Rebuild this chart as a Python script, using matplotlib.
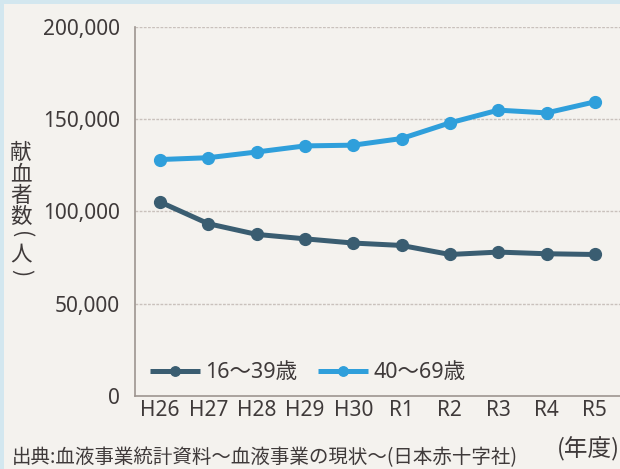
import matplotlib
matplotlib.use("Agg")
import matplotlib.pyplot as plt
from matplotlib.patches import Rectangle
from matplotlib.ticker import FuncFormatter

years = ["H26", "H27", "H28", "H29", "H30", "R1", "R2", "R3", "R4", "R5"]
young = [105100, 93300, 87500, 85100, 82800, 81500, 76600, 77900, 77000, 76600]
older = [128100, 129100, 132200, 135500, 135900, 139500, 148000, 154900, 153400, 159400]
series_labels = ["16～39歳", "40～69歳"]
y_ticks = [0, 50000, 100000, 150000, 200000]

plt.rcParams['font.family'] = ['Noto Sans', 'Noto Sans CJK JP', 'DejaVu Sans']

BG = '#f4f2ee'
TXT = '#3f3a3a'
DARK = '#3a5d71'
LIGHT = '#2f9fdb'

fig = plt.figure(figsize=(6.2, 4.69), dpi=100, facecolor=BG)
# scan border tint
fig.patches.append(Rectangle((0, 1 - 4/469), 1, 4/469, transform=fig.transFigure,
                             facecolor='#d3e7ef', edgecolor='none', zorder=0))
fig.patches.append(Rectangle((0, 0), 4/620, 1, transform=fig.transFigure,
                             facecolor='#d3e7ef', edgecolor='none', zorder=0))

ax = fig.add_axes([135/620, 73.3/469, 485/620, 368.7/469])
ax.set_facecolor('none')

x = list(range(len(years)))
ax.plot(x, young, color=DARK, lw=3.6, marker='o', ms=8.5, label=series_labels[0],
        solid_capstyle='butt', zorder=3)
ax.plot(x, older, color=LIGHT, lw=3.6, marker='o', ms=8.5, label=series_labels[1],
        solid_capstyle='butt', zorder=3)

ax.set_xlim(-0.517, 9.52)
ax.set_ylim(0, 200000)
ax.set_xticks(x)
ax.set_xticklabels(years)
ax.set_yticks(y_ticks)
ax.yaxis.set_major_formatter(FuncFormatter(lambda v, p: f"{int(v):,}"))
ax.tick_params(axis='both', length=0, labelsize=15, colors=TXT)
ax.tick_params(axis='x', pad=3)
ax.tick_params(axis='y', pad=11)

for v in y_ticks[1:]:
    ax.axhline(v, color='#c9c1bc', lw=1.0, ls=(0, (2, 1)), zorder=1)

for s in ['top', 'right']:
    ax.spines[s].set_visible(False)
for s in ['left', 'bottom']:
    ax.spines[s].set_color('#9d9590')
    ax.spines[s].set_linewidth(1.2)

leg = ax.legend(loc='center left', bbox_to_anchor=(0.031, 0.0616), ncol=2,
                frameon=False, fontsize=15.5, handlelength=2.3, handletextpad=0.24,
                columnspacing=1.0, borderpad=0, borderaxespad=0, markerscale=0.8)
for t in leg.get_texts():
    t.set_color(TXT)

# vertical y-axis label (stacked characters)
ylabel_chars = ["献", "血", "者", "数", "(", "人", ")"]
ypos = [152.5, 174, 196, 217, 235, 254, 273]
for ch, yp in zip(ylabel_chars, ypos):
    rot = -90 if ch in "()" else 0
    fig.text(21/620, 1 - yp/469, ch, ha='center', va='center', fontsize=15.5,
             color=TXT, rotation=rot, rotation_mode='anchor',
             family=['Noto Sans CJK JP'])

fig.text(1.0, 1 - 456/469, "(年度)", ha='right', va='baseline', fontsize=17,
         color=TXT, family=['Noto Sans CJK JP'])
fig.text(12/620, 1 - 463.5/469, "出典:血液事業統計資料～血液事業の現状～(日本赤十字社)",
         ha='left', va='baseline', fontsize=14, color=TXT,
         family=['Noto Sans CJK JP'])

fig.savefig("out.png", dpi=100, facecolor=BG)
